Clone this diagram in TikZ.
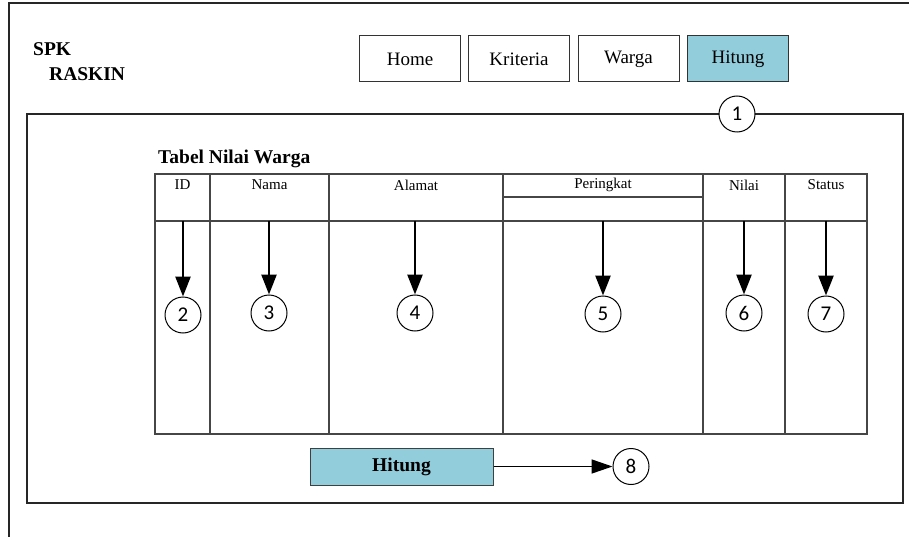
\documentclass[tikz,border=0pt]{standalone}
\usepackage{fontspec}
\setmainfont{Liberation Serif}
\newfontfamily\numfont{Carlito}
\usetikzlibrary{arrows.meta}
\definecolor{btnblue}{RGB}{146,205,220}
\definecolor{gridgray}{RGB}{70,70,70}
\tikzset{
  frame/.style={draw=black!85, line width=1.3pt},
  grid/.style={draw=gridgray, line width=1.1pt},
  navbtn/.style={draw=black!80, line width=1pt, minimum width=101pt, minimum height=46pt,
    inner sep=0pt, font=\fontsize{19}{22}\selectfont},
  marker/.style={circle, draw=black, line width=1pt, fill=white, minimum size=36pt,
    inner sep=0pt, font=\numfont\fontsize{21}{24}\selectfont},
  colhead/.style={font=\fontsize{15}{18}\selectfont, inner sep=0pt},
  downarrow/.style={line width=2.6pt, -{Triangle[length=20pt,width=15pt]}},
  sidearrow/.style={line width=1.6pt, -{Triangle[length=21pt,width=14pt]}},
  title/.style={font=\bfseries\fontsize{19.5}{22}\selectfont, inner sep=0pt}
}
\begin{document}
\begin{tikzpicture}[x=1pt, y=-1pt]
\useasboundingbox (0,0) rectangle (909,537);

% outer window frame
\draw[frame] (9,537) -- (9,3) -- (909,3);

% application title
\node[title, anchor=west] (spk) at (33,49) {SPK};
\node[title, anchor=west] (raskin) at (49,74) {RASKIN};

% navigation menu
\node[navbtn] (home) at (410,59) {Home};
\node[navbtn] (kriteria) at (519,59) {Kriteria};
\node[navbtn] (warga) at (628.5,59) {Warga};
\node[navbtn, fill=btnblue] (hitungmenu) at (738,59) {Hitung};

% content panel
\draw[frame] (27,114) rectangle (903,503);
\node[marker] (m1) at (737,114) {1};

% table caption
\node[title, anchor=west] (caption) at (158,159) {Tabel Nilai Warga};

% table grid
\draw[grid] (155,174) rectangle (867,434);
\draw[grid] (155,221) -- (867,221);
\foreach \cx in {210,329,503,703,785}
  \draw[grid] (\cx,174) -- (\cx,434);
\draw[grid] (503,197) -- (703,197);

% column headings
\node[colhead] (hid) at (182.5,185) {ID};
\node[colhead] (hnama) at (269.5,185) {Nama};
\node[colhead] (halamat) at (416,185) {Alamat};
\node[colhead] (hperingkat) at (603,185) {Peringkat};
\node[colhead] (hnilai) at (744,185) {Nilai};
\node[colhead] (hstatus) at (826,185) {Status};

% column markers
\node[marker] (m2) at (183,315) {2};
\node[marker] (m3) at (269,313) {3};
\node[marker] (m4) at (415,313) {4};
\node[marker] (m5) at (603,314) {5};
\node[marker] (m6) at (744,313) {6};
\node[marker] (m7) at (826,314) {7};

\coordinate (s2) at (183,221);
\coordinate (s3) at (269,221);
\coordinate (s4) at (415,221);
\coordinate (s5) at (603,221);
\coordinate (s6) at (744,221);
\coordinate (s7) at (826,221);

\foreach \k in {2,...,7}
  \draw[downarrow] (s\k) -- (m\k.north);

% action button
\node[draw=black!75, line width=1pt, fill=btnblue, minimum width=183pt, minimum height=37pt,
  inner sep=0pt, font=\bfseries\fontsize{19.5}{22}\selectfont] (hitungbtn) at (401.5,466.5) {Hitung};
\node[marker] (m8) at (631,466.5) {8};
\draw[sidearrow] (hitungbtn.east) -- (m8.west);
\end{tikzpicture}
\end{document}
